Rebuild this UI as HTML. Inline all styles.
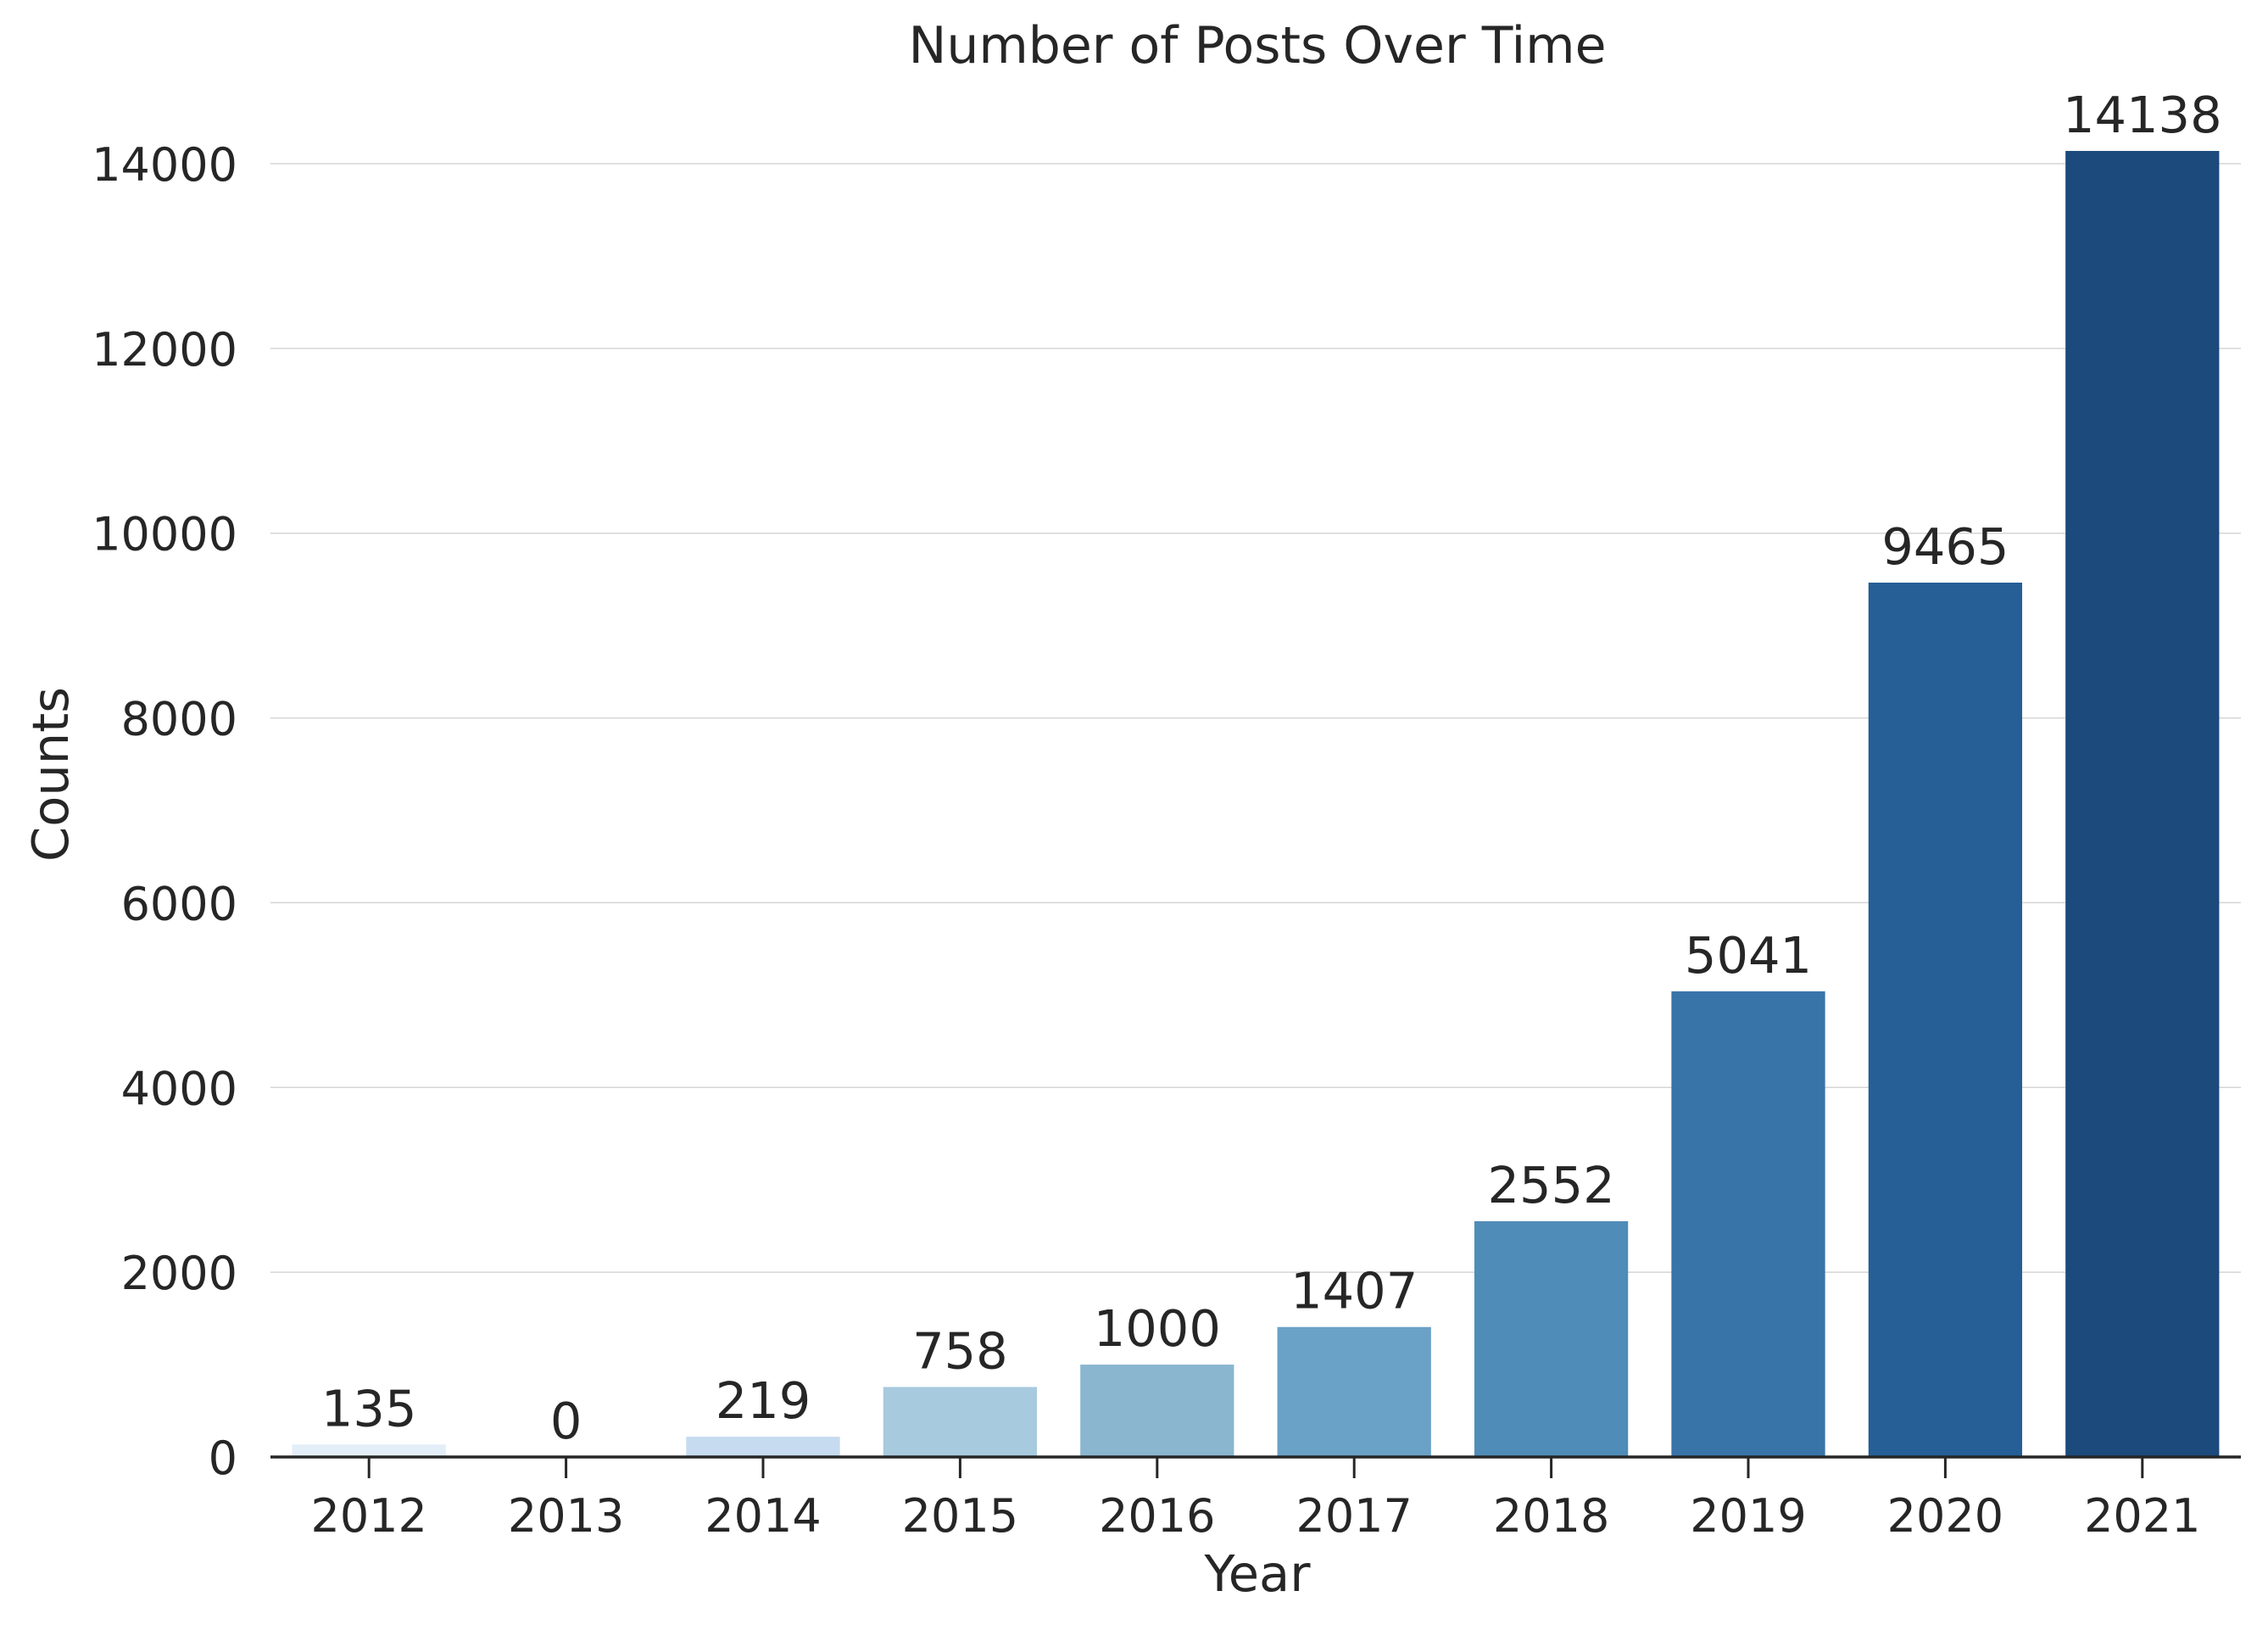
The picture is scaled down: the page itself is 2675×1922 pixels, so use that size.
<!DOCTYPE html>
<html><head><meta charset="utf-8"><style>
body{margin:0;background:#fff}
svg text{font-family:"DejaVu Sans","Liberation Sans",sans-serif;fill:#262626}
</style></head><body>
<svg id="chart" width="2675" height="1917" xmlns="http://www.w3.org/2000/svg">
<text x="1483" y="74" font-size="60" text-anchor="middle">Number of Posts Over Time</text>
<g id="grid"></g><g id="bars"></g><g id="labels"></g><g id="xticks"></g><g id="yticks"></g>
<line x1="319" y1="1718" x2="2643" y2="1718" stroke="#262626" stroke-width="3.5"/>
<text x="1483" y="1876" font-size="59" text-anchor="middle">Year</text>
<text x="0" y="0" font-size="59" text-anchor="middle" transform="translate(80,913) rotate(-90)">Counts</text>
</svg>
<script>
const categories=["2012","2013","2014","2015","2016","2017","2018","2019","2020","2021"];
const values=[135,0,219,758,1000,1407,2552,5041,9465,14138];
const colors=["#e3eef8","#d0e1f2","#c6dbef","#a8cadf","#8ab6d0","#6aa1c6","#4f8cb7","#3974a8","#255f96","#1c4a7c"];
const yTicks=[0,2000,4000,6000,8000,10000,12000,14000];
const NS="http://www.w3.org/2000/svg";
const x0=319,x1=2643,yBase=1718,yTop=193;
function xScale(i){return x0+(i+0.5)*(x1-x0)/categories.length;}
function yScale(v){return yBase-(v/14000)*(yBase-yTop);}
const bw=(x1-x0)/categories.length*0.78;
function mk(t,a,p){const e=document.createElementNS(NS,t);for(const k in a)e.setAttribute(k,a[k]);p.appendChild(e);return e;}
yTicks.forEach(v=>{
  if(v>0){const g=mk('line',{x1:x0,x2:x1,y1:yScale(v),y2:yScale(v),stroke:'#d5d5d5','stroke-width':1.5},document.getElementById('grid'));
  
  }
  const t=mk('text',{x:280,y:yScale(v)+20,'font-size':54,'text-anchor':'end'},document.getElementById('yticks'));
  t.textContent=v;
  
  
});
categories.forEach((c,i)=>{
  const cx=xScale(i),v=values[i];
  const r=mk('rect',{x:cx-bw/2,y:yScale(v),width:bw,height:yBase-yScale(v),fill:colors[i]},document.getElementById('bars'));
  
  
  const l=mk('text',{x:cx,y:yScale(v)-22,'font-size':59,'text-anchor':'middle'},document.getElementById('labels'));
  l.textContent=v;
  
  
  const tk=mk('line',{x1:cx,x2:cx,y1:yBase,y2:yBase+25,stroke:'#262626','stroke-width':3},document.getElementById('xticks'));
  
  
  const t=mk('text',{x:cx,y:1806,'font-size':54,'text-anchor':'middle'},document.getElementById('xticks'));
  t.textContent=c;
  
  
});
</script>
</body></html>
